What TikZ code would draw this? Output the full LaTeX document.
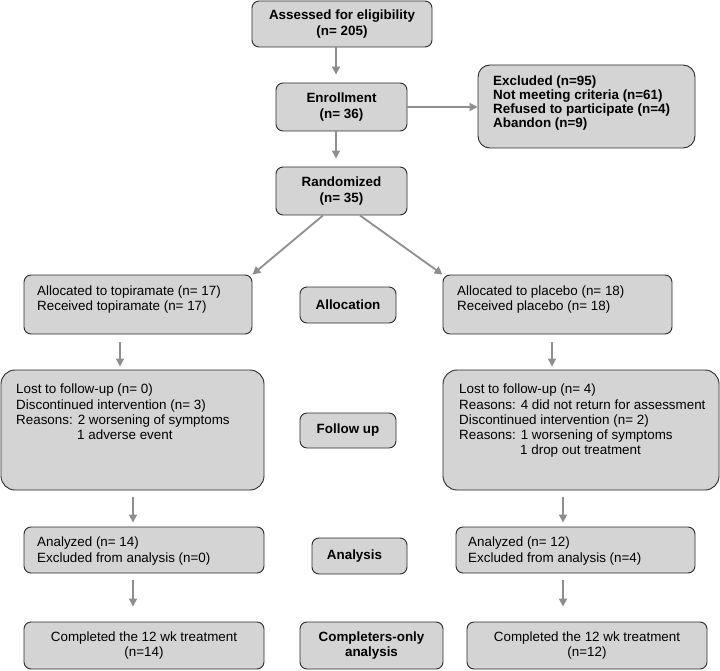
\documentclass[tikz,border=0pt]{standalone}
\usepackage{fontspec}
\setmainfont{Liberation Sans}
\usetikzlibrary{arrows.meta,calc}
\definecolor{boxgray}{HTML}{D4D4D4}
\definecolor{arrgray}{HTML}{8E8E8E}
\definecolor{edgegray}{HTML}{2A2A2A}
\newcommand\boxfont{\fontsize{13.4}{15.2}\selectfont}
\newcommand\exclfont{\fontsize{13.4}{13.7}\selectfont}
\tikzset{
  box/.style={draw=edgegray, fill=boxgray, line width=0.9pt, rounded corners=7pt,
    inner sep=0pt, align=center, font=\boxfont},
  bigbox/.style={box, rounded corners=14pt},
  hbox/.style={box, font=\boxfont\bfseries},
  txt/.style={anchor=north west, inner sep=0pt, align=left, font=\boxfont},
  arr/.style={draw=arrgray, line width=1.8pt, -{Triangle[length=8pt,width=8pt]}},
}
\begin{document}
\begin{tikzpicture}[x=1pt,y=-1pt]
\useasboundingbox (0,0) rectangle (720,671);

% top column
\node[hbox, minimum width=180pt, minimum height=46pt] (assess) at (342,24) {Assessed for eligibility\\(n= 205)};
\node[hbox, minimum width=131pt, minimum height=48pt] (enroll) at (341.5,107) {Enrollment\\(n= 36)};
\node[hbox, minimum width=131pt, minimum height=48pt] (rand) at (341.5,191) {Randomized\\(n= 35)};
\node[box, rounded corners=12pt, minimum width=217pt, minimum height=83pt] (excl) at (586.5,106.5) {};
\node[txt, font=\exclfont\bfseries] (tExcl) at (493,76) {Excluded (n=95)\\Not meeting criteria (n=61)\\Refused to participate (n=4)\\Abandon (n=9)};

% allocation row
\node[box, minimum width=228pt, minimum height=59pt] (allocT) at (138,304.5) {};
\node[hbox, minimum width=96pt, minimum height=36pt] (allocL) at (348,305) {Allocation};
\node[box, minimum width=229pt, minimum height=59pt] (allocP) at (557.5,304.5) {};
\node[txt] (tAllocT) at (37,285.5) {Allocated to topiramate (n= 17)\\Received topiramate (n= 17)};
\node[txt] (tAllocP) at (457,285.5) {Allocated to placebo (n= 18)\\Received placebo (n= 18)};

% follow up row
\node[bigbox, minimum width=263pt, minimum height=120pt] (fuT) at (132.5,430) {};
\node[hbox, minimum width=96pt, minimum height=35pt] (fuL) at (348,430.5) {Follow up};
\node[bigbox, minimum width=276pt, minimum height=120pt] (fuP) at (581,430) {};
\node[txt] (tFuT) at (16,384) {Lost to follow-up (n= 0)\\Discontinued intervention (n= 3)\\Reasons: 2 worsening of symptoms\\\hspace*{61pt}1 adverse event};
\node[txt] (tFuP) at (459,384) {Lost to follow-up (n= 4)\\Reasons: 4 did not return for assessment\\Discontinued intervention (n= 2)\\Reasons: 1 worsening of symptoms\\\hspace*{61pt}1 drop out treatment};

% analysis row
\node[box, minimum width=240pt, minimum height=46pt] (anT) at (144,550) {};
\node[hbox, minimum width=95pt, minimum height=36pt] (anL) at (359.5,556) {Analysis\hspace*{10pt}};
\node[box, minimum width=239pt, minimum height=46pt] (anP) at (575.5,550) {};
\node[txt] (tAnT) at (37,537) {Analyzed (n= 14)\\Excluded from analysis (n=0)};
\node[txt] (tAnP) at (468,537) {Analyzed (n= 12)\\Excluded from analysis (n=4)};

% completers row
\node[box, minimum width=240pt, minimum height=47pt] (compT) at (144,645.5) {Completed the 12 wk treatment\\(n=14)};
\node[hbox, minimum width=143pt, minimum height=47pt] (compL) at (371.5,645.5) {Completers-only\\analysis};
\node[box, minimum width=240pt, minimum height=47pt] (compP) at (587,645.5) {Completed the 12 wk treatment\\(n=12)};

% connectors
\coordinate (c1) at ([xshift=-6pt]assess.south);
\draw[arr, shorten >=8pt] (c1) -- (c1 |- enroll.north);
\coordinate (c2) at ([xshift=-5.5pt]enroll.south);
\draw[arr, shorten >=8pt] (c2) -- (c2 |- rand.north);
\draw[arr] (enroll.east) -- (enroll.east -| excl.west);
\draw[arr] ([xshift=-18.5pt]rand.south) -- (allocT.north east);
\draw[arr] ([xshift=18.5pt]rand.south) -- (allocP.north west);
\coordinate (c3) at ([xshift=-18pt]allocT.south);
\draw[arr, shorten <=8pt, shorten >=3pt] (c3) -- (c3 |- fuT.north);
\coordinate (c4) at ([xshift=-5.5pt]allocP.south);
\draw[arr, shorten <=8pt, shorten >=3pt] (c4) -- (c4 |- fuP.north);
\coordinate (c5) at ([xshift=0.5pt]fuT.south);
\draw[arr, shorten <=7pt, shorten >=4pt] (c5) -- (c5 |- anT.north);
\coordinate (c6) at ([xshift=-18pt]fuP.south);
\draw[arr, shorten <=7pt, shorten >=4pt] (c6) -- (c6 |- anP.north);
\coordinate (c7) at ([xshift=-11pt]anT.south);
\draw[arr, shorten <=7pt, shorten >=15pt] (c7) -- (c7 |- compT.north);
\coordinate (c8) at ([xshift=-12.5pt]anP.south);
\draw[arr, shorten <=7pt, shorten >=15pt] (c8) -- (c8 |- compP.north);
\end{tikzpicture}
\end{document}
